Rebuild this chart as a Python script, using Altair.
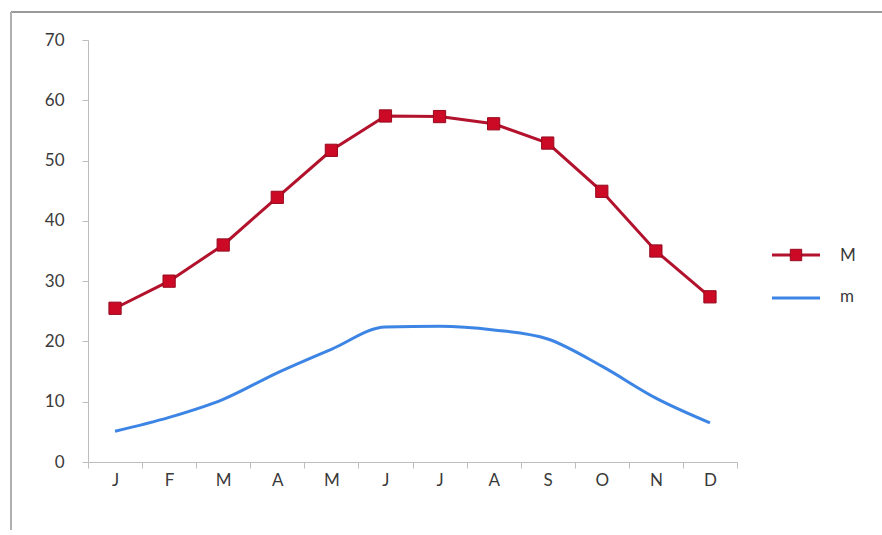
import altair as alt
import pandas as pd

# Monthly values for the two series
month_labels = ["J", "F", "M", "A", "M", "J", "J", "A", "S", "O", "N", "D"]
series_names = ["M", "m"]
max_vals = [25.5, 30.0, 36.0, 43.9, 51.7, 57.4, 57.3, 56.1, 52.9, 44.9, 35.0, 27.4]
min_vals = [5.1, 7.4, 10.4, 14.8, 18.7, 22.4, 22.5, 21.9, 20.4, 15.9, 10.6, 6.5]

RED_LINE = "#B3122D"
RED_FILL = "#CC0A26"
RED_EDGE = "#960A1F"
BLUE = "#3D85E4"
AXIS_GREY = "#BDBDBD"
TEXT = "#3A3A3A"
FONT = "Lato"
FSIZE = 17

idx = list(range(len(month_labels)))
df_max = pd.DataFrame({"i": idx, "v": max_vals})
df_min = pd.DataFrame({"i": idx, "v": min_vals})
one = pd.DataFrame({"k": [0]})

label_array = "[" + ",".join(f"'{m}'" for m in month_labels) + "]"

x_enc = alt.X(
    "i:O",
    scale=alt.Scale(type="band", paddingInner=0, paddingOuter=0),
    axis=alt.Axis(
        title=None,
        labelExpr=f"{label_array}[datum.value]",
        labelAngle=0,
        tickBand="extent",
        tickSize=6,
        labelPadding=4,
        domainColor=AXIS_GREY,
        tickColor=AXIS_GREY,
        labelColor=TEXT,
        labelFont=FONT,
        labelFontSize=FSIZE,
        grid=False,
    ),
)
y_enc = alt.Y(
    "v:Q",
    scale=alt.Scale(domain=[0, 70], nice=False),
    axis=alt.Axis(
        title=None,
        values=list(range(0, 71, 10)),
        tickSize=6,
        labelPadding=18,
        domainColor=AXIS_GREY,
        tickColor=AXIS_GREY,
        labelColor=TEXT,
        labelFont=FONT,
        labelFontSize=FSIZE,
        grid=False,
    ),
)

max_line = alt.Chart(df_max).mark_line(color=RED_LINE, strokeWidth=3).encode(x=x_enc, y=y_enc)
max_pts = alt.Chart(df_max).mark_square(
    size=150, fill=RED_FILL, stroke=RED_EDGE, strokeWidth=1, opacity=1
).encode(x=x_enc, y=y_enc)
min_line = alt.Chart(df_min).mark_line(
    color=BLUE, strokeWidth=3, interpolate="monotone"
).encode(x=x_enc, y=y_enc)

# Legend drawn beside the plot
leg_m_line = alt.Chart(one).mark_rule(color=RED_LINE, strokeWidth=3).encode(
    x=alt.value(684), x2=alt.value(732), y=alt.value(215)
)
leg_m_pt = alt.Chart(one).mark_square(
    size=130, fill=RED_FILL, stroke=RED_EDGE, strokeWidth=1, opacity=1
).encode(x=alt.value(708), y=alt.value(215))
leg_m_txt = alt.Chart(one).mark_text(
    align="left", baseline="middle", font=FONT, fontSize=FSIZE, color=TEXT
).encode(x=alt.value(752), y=alt.value(216), text=alt.value(series_names[0]))
leg_n_line = alt.Chart(one).mark_rule(color=BLUE, strokeWidth=3).encode(
    x=alt.value(684), x2=alt.value(732), y=alt.value(258)
)
leg_n_txt = alt.Chart(one).mark_text(
    align="left", baseline="middle", font=FONT, fontSize=FSIZE, color=TEXT
).encode(x=alt.value(752), y=alt.value(257), text=alt.value(series_names[1]))

# Outer frame edges (top and left)
frame_top = alt.Chart(one).mark_rule(color="#9A9A9A", strokeWidth=2).encode(
    x=alt.value(-77), x2=alt.value(794), y=alt.value(-28)
)
frame_left = alt.Chart(one).mark_rule(color="#B0B0B0", strokeWidth=2).encode(
    x=alt.value(-77), y=alt.value(-28), y2=alt.value(490)
)

chart = alt.layer(
    frame_top, frame_left,
    min_line, max_line, max_pts,
    leg_m_line, leg_m_pt, leg_m_txt, leg_n_line, leg_n_txt,
).properties(
    width=649,
    height=422,
    padding={"left": 88, "top": 40, "right": 145, "bottom": 73},
    autosize=alt.AutoSizeParams(type="none"),
    background="white",
).configure_view(stroke=None)

chart.save("out.html", embed_options={"renderer": "svg", "actions": False})
